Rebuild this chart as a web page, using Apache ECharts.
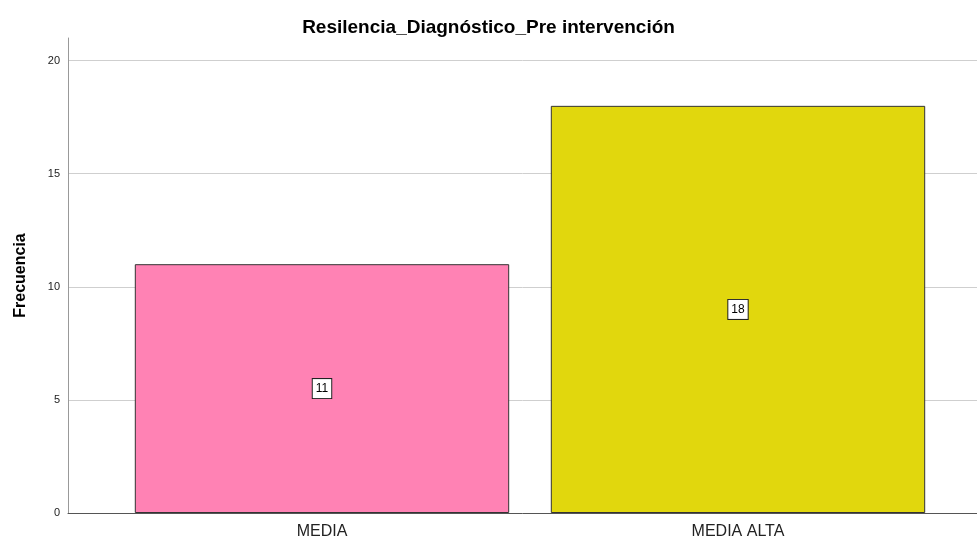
<!DOCTYPE html>
<html><head><meta charset="utf-8">
<script src="https://cdn.jsdelivr.net/npm/echarts@6/dist/echarts.min.js"></script>
<style>html,body{margin:0;padding:0;background:#fff}#c{width:977px;height:541px}</style>
</head><body><div id="c"></div>
<script>
const categories = ['MEDIA', 'MEDIA ALTA'];
const values = [11, 18];
const barColors = ['#FF82B4', '#E1D70D'];
const yTicks = [0, 5, 10, 15, 20];

const chart = echarts.init(document.getElementById('c'));
const font = 'Liberation Sans, Arial, sans-serif';
const plotTop = 38, plotBottom = 28, axisMax = 21;
const tickMax = yTicks[yTicks.length - 1];
const tickTop = plotTop + (axisMax - tickMax) / axisMax * (541 - plotTop - plotBottom);
chart.setOption({
  animation: false,
  title: { text: 'Resilencia_Diagnóstico_Pre intervención', left: 'center', top: 13,
    textStyle: { fontFamily: font, fontSize: 19, fontWeight: 'bold', color: '#000' } },
  grid: [
    { left: 68, right: 0, top: plotTop, bottom: plotBottom },
    { left: 114, right: 31, top: plotTop, bottom: plotBottom },
    { left: 68, right: 0, top: tickTop, bottom: plotBottom }
  ],
  xAxis: [
    { gridIndex: 0, type: 'category', data: [''], axisLine: { lineStyle: { color: '#555', width: 1 } },
      axisTick: { show: false }, axisLabel: { show: false } },
    { gridIndex: 1, type: 'category', data: categories, axisLine: { show: false },
      axisTick: { show: false },
      axisLabel: { fontFamily: font, fontSize: 16, color: '#222', margin: 11 } },
    { gridIndex: 2, type: 'category', data: [''], show: false }
  ],
  yAxis: [
    { gridIndex: 0, type: 'value', min: 0, max: axisMax,
      name: 'Frecuencia', nameLocation: 'middle', nameGap: 39,
      nameTextStyle: { fontFamily: font, fontSize: 16, fontWeight: 'bold', color: '#000' },
      axisLine: { show: true, lineStyle: { color: '#999', width: 1 } },
      axisTick: { show: false }, axisLabel: { show: false }, splitLine: { show: false } },
    { gridIndex: 1, type: 'value', min: 0, max: axisMax, show: false, splitLine: { show: false } },
    { gridIndex: 2, type: 'value', min: 0, max: tickMax, interval: 5,
      axisLine: { show: false }, axisTick: { show: false },
      axisLabel: { fontFamily: font, fontSize: 11, color: '#222', margin: 8 },
      splitLine: { show: true, lineStyle: { color: '#cfcfcf', width: 1 } } }
  ],
  series: [{
    type: 'bar', xAxisIndex: 1, yAxisIndex: 1,
    barCategoryGap: '10%',
    data: values.map((v, i) => ({ value: v, itemStyle: { color: barColors[i] } })),
    itemStyle: { borderColor: '#333', borderWidth: 1 },
    label: { show: true, position: 'inside', fontFamily: font, fontSize: 12, color: '#000',
      backgroundColor: '#fff', borderColor: '#222', borderWidth: 1, padding: [4, 3, 3, 3] }
  }]
});
</script></body></html>
